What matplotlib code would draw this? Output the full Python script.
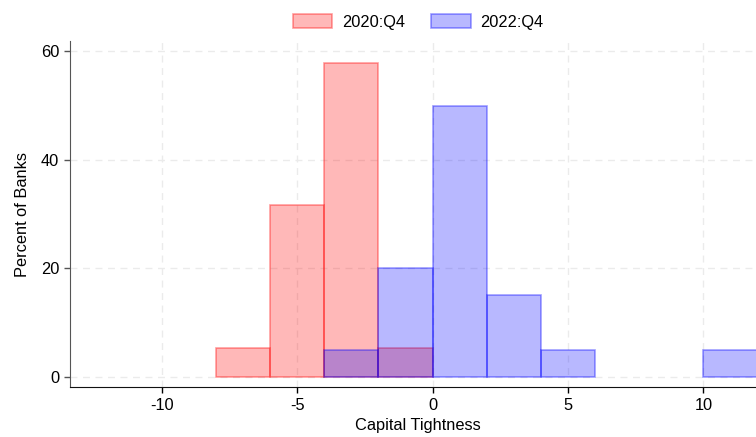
import numpy as np
import matplotlib.pyplot as plt

plt.rcParams['font.family'] = ['Liberation Sans', 'DejaVu Sans']
plt.rcParams['axes.unicode_minus'] = False

# histogram bins (width 2) and percent of banks in each bin
bins_2020 = [-8, -6, -4, -2]
pct_2020 = [5.26, 31.58, 57.89, 5.26]
bins_2022 = [-4, -2, 0, 2, 4, 10]
pct_2022 = [5.0, 20.0, 50.0, 15.0, 5.0, 5.0]
bin_width = 2

xticks = [-10, -5, 0, 5, 10]
yticks = [0, 20, 40, 60]

fig = plt.figure(figsize=(7.56, 4.37), dpi=100)
ax = fig.add_axes([69.7 / 756, 1 - 387.3 / 437, (767 - 69.7) / 756, (387.3 - 41) / 437])

ax.bar(bins_2020, pct_2020, width=bin_width, align='edge',
       color=(1, 0, 0, 0.28), edgecolor=(1, 0, 0, 0.38), linewidth=1.2,
       label='2020:Q4', zorder=2)
ax.bar(bins_2022, pct_2022, width=bin_width, align='edge',
       color=(0, 0, 1, 0.28), edgecolor=(0, 0, 1, 0.38), linewidth=1.2,
       label='2022:Q4', zorder=3)

ax.set_xlim(-13.4, 12.35)
ax.set_ylim(-1.95, 61.9)
ax.set_xticks(xticks)
ax.set_yticks(yticks)
ax.grid(True, color='#ebebeb', linestyle=(0, (5, 4)), linewidth=1.0, zorder=0)
ax.set_axisbelow(True)

for s in ['top', 'right']:
    ax.spines[s].set_visible(False)
ax.spines['left'].set_color('#555555')
ax.spines['bottom'].set_color('#111111')
ax.tick_params(axis='both', labelsize=11.8, length=4.5, width=1, pad=3)
ax.tick_params(axis='y', colors='#555555', labelcolor='black')

ax.set_xlabel('Capital Tightness', fontsize=11.8, labelpad=4)
ax.set_ylabel('Percent of Banks', fontsize=11.8, labelpad=8)

ax.legend(loc='lower center', bbox_to_anchor=(0.5, 1.0), ncol=2, frameon=False,
          fontsize=11.8, handlelength=2.4, handleheight=1.0, columnspacing=1.6,
          handletextpad=0.6, borderaxespad=0.3)

fig.savefig('out.png', dpi=100)
